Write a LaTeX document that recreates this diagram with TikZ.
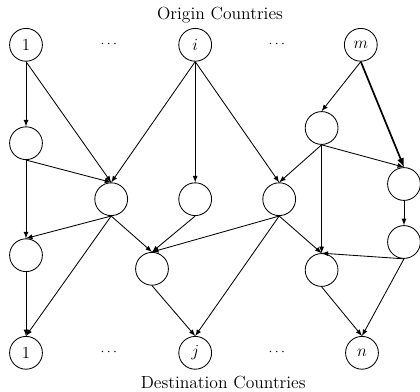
\documentclass[tikz,border=0pt]{standalone}
\usepackage{tikz}

\begin{document}
\begin{tikzpicture}[>=latex, semithick,
    country/.style={draw, circle, minimum size=0.82cm, inner sep=0pt, font=\large},
    hub/.style={draw, circle, minimum size=0.82cm, inner sep=0pt},
    caption/.style={font=\fontsize{12.5pt}{15pt}\selectfont}]
    \useasboundingbox (0, 0) rectangle (10.5, -9.775);

    \node[caption] (origin) at (5.5, -0.38) {Origin Countries};
    \node[caption] (dest) at (5.58, -9.55) {Destination Countries};

    \node[country] (o1) at (0.65, -1.12) {$1$};
    \node (odots1) at (2.72, -1.12) {$\cdots$};
    \node[country] (oi) at (4.88, -1.12) {$i$};
    \node (odots2) at (6.92, -1.12) {$\cdots$};
    \node[country] (om) at (9.02, -1.12) {$m$};

    \node[hub] (a) at (0.65, -3.58) {};
    \node[hub] (ma) at (8.04, -3.2) {};
    \node[hub] (b) at (2.78, -4.98) {};
    \node[hub] (c) at (4.88, -4.98) {};
    \node[hub] (d) at (6.98, -4.98) {};
    \node[hub] (e) at (10.1, -4.6) {};
    \node[hub] (f) at (0.65, -6.38) {};
    \node[hub] (g) at (3.8, -6.72) {};
    \node[hub] (h) at (8.04, -6.75) {};
    \node[hub] (k) at (10.1, -6.05) {};

    \node[country] (d1) at (0.65, -8.82) {$1$};
    \node (ddots1) at (2.72, -8.82) {$\cdots$};
    \node[country] (dj) at (4.88, -8.82) {$j$};
    \node (ddots2) at (6.92, -8.82) {$\cdots$};
    \node[country] (dn) at (9.05, -8.82) {$n$};

    % origin side
    \draw[->] (o1.south) to (a.north);
    \draw[->] (o1.south) to (b.north);
    \draw[->] (oi.south) to (b.north);
    \draw[->] (oi.south) to (c.north);
    \draw[->] (oi.south) to (d.north);
    \draw[->] (om.south) to (ma.north);
    \draw[->, line width=1.2pt] (om.south) to (e.north);

    \draw[->] (a.south) to (b.north);
    \draw[->] (a.south) to (f.north);
    \draw[->] (ma.south) to (d.north);
    \draw[->] (ma.south) to (e.north);
    \draw[->] (ma.south) to (h.north);
    \draw[->] (e.south) to (k.north);

    \draw[->] (b.south) to (f.north);
    \draw[->] (b.south) to (g.north);
    \draw[->] (c.south) to (g.north);
    \draw[->] (d.south) to (g.north);
    \draw[->] (d.south) to (h.north);
    \draw[->] (k.south) to (h.north);

    % destination side
    \draw[->] (f.south) to (d1.north);
    \draw[->] (b.south) to (d1.north);
    \draw[->] (g.south) to (dj.north);
    \draw[->] (d.south) to (dj.north);
    \draw[->] (h.south) to (dn.north);
    \draw[->] (k.south) to (dn.north);
\end{tikzpicture}
\end{document}
